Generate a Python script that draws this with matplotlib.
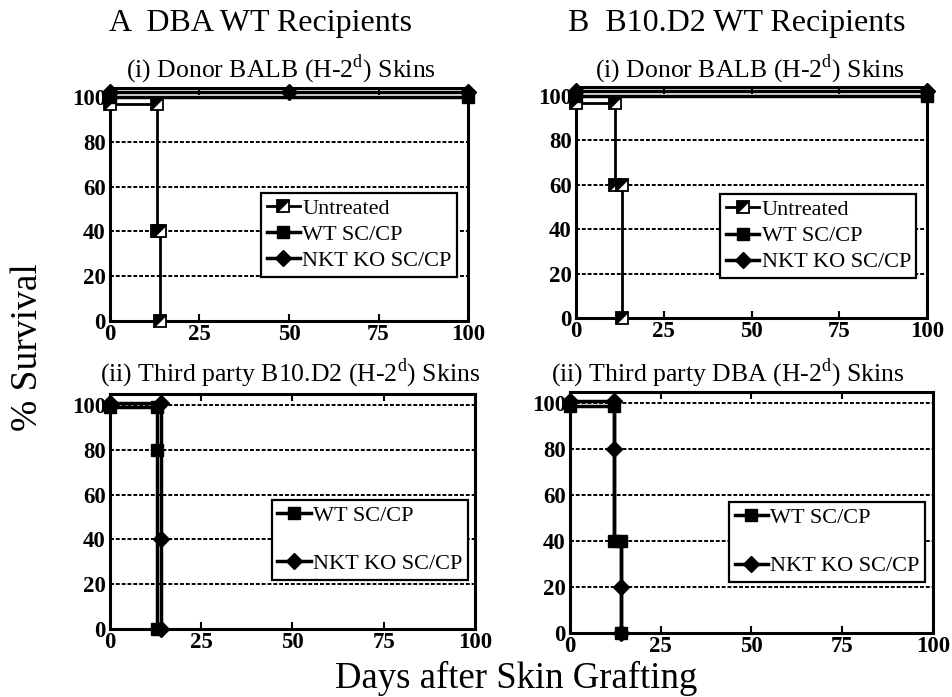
import matplotlib
matplotlib.use('Agg')
import matplotlib.pyplot as plt
from matplotlib.path import Path
from matplotlib.legend_handler import HandlerTuple

plt.rcParams['font.family'] = ['Liberation Serif', 'DejaVu Serif']
plt.rcParams['mathtext.fontset'] = 'custom'
plt.rcParams['mathtext.rm'] = 'Liberation Serif'

# A (i) DBA WT recipients, donor BALB skins
a1_untreated_x = [0, 13, 13, 14, 14]
a1_untreated_y = [97, 97, 40, 40, 0]
a1_wt_x = [0, 100]
a1_wt_y = [100, 100]
a1_nkt_x = [0, 50, 100]
a1_nkt_y = [102, 102, 102]

# B (i) B10.D2 WT recipients, donor BALB skins
b1_untreated_x = [0, 11, 11, 13, 13]
b1_untreated_y = [97, 97, 60, 60, 0]
b1_wt_x = [0, 100]
b1_wt_y = [100, 100]
b1_nkt_x = [0, 100]
b1_nkt_y = [102, 102]

# A (ii) third party B10.D2 skins
a2_wt_x = [0, 13, 13, 13]
a2_wt_y = [99, 99, 80, 0]
a2_nkt_x = [0, 14, 14, 14]
a2_nkt_y = [101, 101, 40, 0]

# B (ii) third party DBA skins
b2_wt_x = [0, 12, 12, 14, 14]
b2_wt_y = [99, 99, 40, 40, 0]
b2_nkt_x = [0, 12, 12, 12, 14, 14, 14]
b2_nkt_y = [101, 101, 80, 40, 40, 20, 0]
b2_nkt_marks = [0, 1, 2, 5, 6]

x_ticks = [0, 25, 50, 75, 100]
y_ticks = [0, 20, 40, 60, 80, 100]

W, H = 953, 697
fig = plt.figure(figsize=(W / 100, H / 100), dpi=100)

# half filled square for "Untreated"
tri = Path([(-1, 1), (1, 1), (-1, -1), (-1, 1)],
           [Path.MOVETO, Path.LINETO, Path.LINETO, Path.CLOSEPOLY])


def px_axes(left, right, top, bottom):
    return fig.add_axes([left / W, 1 - bottom / H, (right - left) / W, (bottom - top) / H])


def style_axes(ax, ytop):
    ax.set_xlim(0, 100)
    ax.set_ylim(0, ytop)
    ax.set_xticks(x_ticks)
    ax.set_yticks(y_ticks)
    for s in ax.spines.values():
        s.set_linewidth(2.2)
    ax.tick_params(axis='x', direction='in', top=True, length=5, width=1.5,
                   labelsize=16.5, pad=2)
    ax.tick_params(axis='y', direction='in', length=0, labelsize=16.5, pad=3)
    for lab in ax.get_xticklabels() + ax.get_yticklabels():
        lab.set_fontweight('bold')
    ax.yaxis.grid(True, color='black', linestyle=(0, (2, 1)), linewidth=1.4)
    ax.set_axisbelow(True)


def untreated(ax, x, y):
    l1, = ax.plot(x, y, color='black', lw=2, marker='s', ms=9,
                  mfc='white', mec='black', mew=1.3, clip_on=False, zorder=3)
    l2, = ax.plot(x, y, ls='none', marker=tri, ms=9, mfc='black', mec='black',
                  mew=0.5, clip_on=False, zorder=4)
    return (l1, l2)


def wt(ax, x, y, markevery=None):
    l, = ax.plot(x, y, color='black', lw=2.5, marker='s', ms=9, mfc='black',
                 mec='black', clip_on=False, zorder=3, markevery=markevery)
    return l


def nkt(ax, x, y, markevery=None):
    l, = ax.plot(x, y, color='black', lw=2.5, marker='D', ms=8, mfc='black',
                 mec='black', clip_on=False, zorder=3, markevery=markevery)
    return l


def legend(ax, handles, labels, anchor, spacing):
    lg = ax.legend(handles, labels, loc='lower right', bbox_to_anchor=anchor,
                   handler_map={tuple: HandlerTuple(ndivide=1, pad=0)},
                   fontsize=16, frameon=True, fancybox=False, framealpha=1,
                   edgecolor='black', handlelength=1.5, handletextpad=0.1,
                   labelspacing=spacing, borderpad=0.25, borderaxespad=0)
    lg.get_frame().set_linewidth(1.6)
    lg.set_zorder(5)


# A (i)
ax = px_axes(110, 468, 88, 321)
style_axes(ax, 104)
h1 = untreated(ax, a1_untreated_x, a1_untreated_y)
h2 = wt(ax, a1_wt_x, a1_wt_y)
h3 = nkt(ax, a1_nkt_x, a1_nkt_y)
legend(ax, [h1, h2, h3], ['Untreated', 'WT SC/CP', 'NKT KO SC/CP'], (0.97, 0.19), 0.25)

# B (i)
ax = px_axes(576, 927, 87, 318)
style_axes(ax, 104)
h1 = untreated(ax, b1_untreated_x, b1_untreated_y)
h2 = wt(ax, b1_wt_x, b1_wt_y)
h3 = nkt(ax, b1_nkt_x, b1_nkt_y)
legend(ax, [h1, h2, h3], ['Untreated', 'WT SC/CP', 'NKT KO SC/CP'], (0.97, 0.173), 0.25)

# A (ii)
ax = px_axes(110, 475, 394, 629)
style_axes(ax, 105)
h2 = wt(ax, a2_wt_x, a2_wt_y)
h3 = nkt(ax, a2_nkt_x, a2_nkt_y)
legend(ax, [h2, h3], ['WT SC/CP', 'NKT KO SC/CP'], (0.98, 0.21), 1.25)

# B (ii)
ax = px_axes(570, 933, 392, 633)
style_axes(ax, 105)
h2 = wt(ax, b2_wt_x, b2_wt_y)
h3 = nkt(ax, b2_nkt_x, b2_nkt_y, markevery=b2_nkt_marks)
legend(ax, [h2, h3], ['WT SC/CP', 'NKT KO SC/CP'], (0.978, 0.212), 1.25)


def ftext(x, y, s, size, **kw):
    fig.text(x / W, 1 - y / H, s, fontsize=size, ha='center', va='center', **kw)


ftext(261, 24, 'A  DBA WT Recipients', 23)
ftext(737, 24, 'B  B10.D2 WT Recipients', 23)
ftext(281, 69, '(i) Donor BALB (H-2$^{\\mathrm{d}}$) Skins', 18.5)
ftext(750, 69, '(i) Donor BALB (H-2$^{\\mathrm{d}}$) Skins', 18.5)
ftext(290, 373, '(ii) Third party B10.D2 (H-2$^{\\mathrm{d}}$) Skins', 18.5)
ftext(728, 373, '(ii) Third party DBA (H-2$^{\\mathrm{d}}$) Skins', 18.5)
ftext(28, 347, '% Survival', 27, rotation=90)
ftext(516, 678, 'Days after Skin Grafting', 26.5)

fig.savefig('out.png', dpi=100)
